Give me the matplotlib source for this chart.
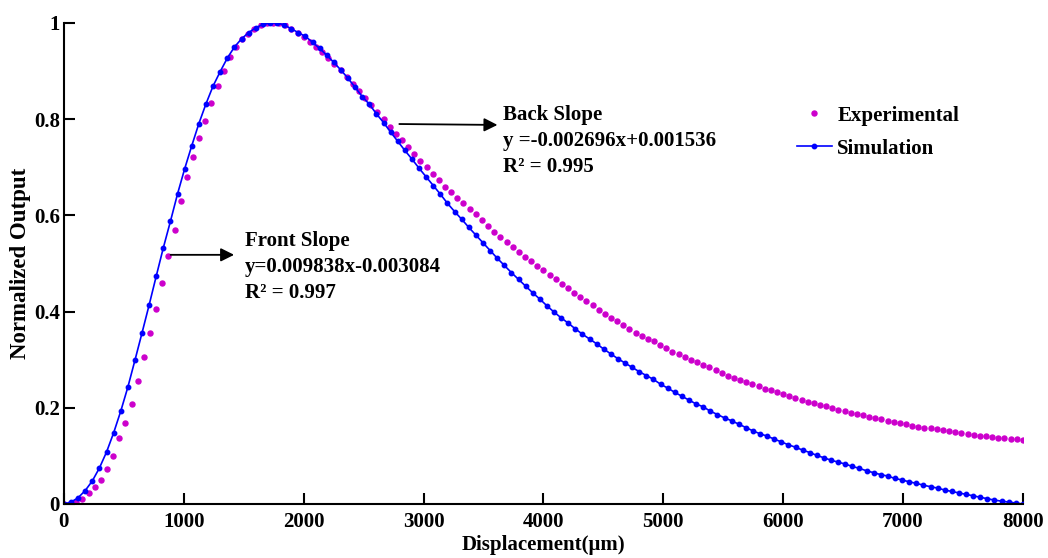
import numpy as np
import matplotlib
matplotlib.use("Agg")
import matplotlib.pyplot as plt

plt.rcParams['font.family'] = ['Liberation Serif', 'DejaVu Serif']
plt.rcParams['font.weight'] = 'bold'

# Experimental data (157 points, 0..8000 um)
exp_x = np.linspace(0, 8000, 157)
exp_y = [0.000, 0.001, 0.005, 0.011, 0.022, 0.035, 0.050, 0.072, 0.100, 0.137,
         0.168, 0.208, 0.256, 0.305, 0.355, 0.406, 0.459, 0.516, 0.570, 0.630,
         0.680, 0.722, 0.760, 0.797, 0.834, 0.870, 0.901, 0.929, 0.950, 0.966,
         0.978, 0.988, 0.995, 0.999, 1.000, 0.999, 0.995, 0.988, 0.980, 0.970,
         0.960, 0.950, 0.940, 0.928, 0.915, 0.902, 0.888, 0.873, 0.859, 0.845,
         0.830, 0.815, 0.800, 0.784, 0.769, 0.756, 0.742, 0.728, 0.714, 0.700,
         0.686, 0.673, 0.660, 0.648, 0.636, 0.625, 0.614, 0.602, 0.590, 0.577,
         0.566, 0.555, 0.545, 0.534, 0.524, 0.514, 0.505, 0.495, 0.486, 0.476,
         0.467, 0.457, 0.448, 0.438, 0.430, 0.421, 0.413, 0.404, 0.395, 0.387,
         0.380, 0.372, 0.364, 0.356, 0.350, 0.344, 0.338, 0.331, 0.324, 0.317,
         0.312, 0.306, 0.300, 0.295, 0.289, 0.284, 0.278, 0.273, 0.267, 0.262,
         0.257, 0.253, 0.249, 0.245, 0.240, 0.236, 0.232, 0.228, 0.224, 0.220,
         0.217, 0.213, 0.210, 0.206, 0.203, 0.200, 0.196, 0.193, 0.190, 0.187,
         0.184, 0.181, 0.178, 0.176, 0.173, 0.171, 0.168, 0.166, 0.163, 0.161,
         0.159, 0.157, 0.155, 0.153, 0.151, 0.149, 0.147, 0.145, 0.144, 0.142,
         0.141, 0.139, 0.138, 0.137, 0.136, 0.135, 0.134]

# Simulation data (136 points, 0..8000 um)
sim_x = np.linspace(0, 8000, 136)
sim_y = [0.000, 0.004, 0.013, 0.028, 0.048, 0.075, 0.108, 0.148, 0.193, 0.243,
         0.299, 0.356, 0.414, 0.474, 0.533, 0.588, 0.645, 0.697, 0.745, 0.791,
         0.832, 0.869, 0.899, 0.927, 0.950, 0.967, 0.980, 0.990, 0.997, 1.000,
         1.000, 0.996, 0.988, 0.980, 0.972, 0.960, 0.947, 0.933, 0.918, 0.902,
         0.885, 0.866, 0.847, 0.831, 0.811, 0.793, 0.773, 0.754, 0.735, 0.717,
         0.698, 0.680, 0.662, 0.644, 0.625, 0.608, 0.592, 0.575, 0.559, 0.543,
         0.527, 0.511, 0.496, 0.481, 0.467, 0.453, 0.439, 0.426, 0.412, 0.399,
         0.387, 0.376, 0.364, 0.353, 0.343, 0.333, 0.322, 0.312, 0.302, 0.293,
         0.284, 0.275, 0.267, 0.259, 0.249, 0.241, 0.232, 0.224, 0.216, 0.208,
         0.202, 0.193, 0.186, 0.179, 0.173, 0.166, 0.159, 0.152, 0.146, 0.141,
         0.135, 0.129, 0.123, 0.118, 0.112, 0.107, 0.101, 0.096, 0.091, 0.087,
         0.083, 0.078, 0.074, 0.069, 0.065, 0.061, 0.058, 0.053, 0.050, 0.046,
         0.043, 0.039, 0.036, 0.033, 0.029, 0.026, 0.023, 0.020, 0.017, 0.014,
         0.011, 0.008, 0.006, 0.004, 0.002, 0.000]

x_ticks = [0, 1000, 2000, 3000, 4000, 5000, 6000, 7000, 8000]
y_ticks = [0, 0.2, 0.4, 0.6, 0.8, 1]

front_text = "Front Slope\ny=0.009838x-0.003084\nR² = 0.997"
back_text = "Back Slope\ny =-0.002696x+0.001536\nR² = 0.995"

fig = plt.figure(figsize=(10.48, 5.58), dpi=100)
ax = fig.add_axes([0.061, 0.0968, 0.915, 0.862])

ax.plot(exp_x, exp_y, linestyle='none', marker='o', markersize=3.6,
        color='#CC00CC', label='Experimental')
ax.plot(sim_x, sim_y, '-', color='#0000FF', linewidth=1.2, marker='o',
        markersize=3.2, label='Simulation')

ax.set_xlim(0, 8000)
ax.set_ylim(0, 1)
ax.set_xticks(x_ticks)
ax.set_yticks(y_ticks)
ax.set_yticklabels(["%g" % t for t in y_ticks])
ax.tick_params(direction='in', length=8, width=1.5, labelsize=15)
ax.tick_params(axis='x', pad=6)
ax.tick_params(axis='y', pad=3)
for s in ['top', 'right']:
    ax.spines[s].set_visible(False)
for s in ['left', 'bottom']:
    ax.spines[s].set_linewidth(1.5)

ax.set_xlabel("Displacement(μm)", fontsize=15, fontweight='bold', labelpad=2)
ax.set_ylabel("Normalized Output", fontsize=16.5, fontweight='bold', labelpad=2)

# slope annotations
ax.annotate("", xy=(1443, 0.518), xytext=(867, 0.518),
            arrowprops=dict(arrowstyle='-|>', color='black', lw=1.3,
                            mutation_scale=20))
ax.annotate("", xy=(3640, 0.788), xytext=(2775, 0.790),
            arrowprops=dict(arrowstyle='-|>', color='black', lw=1.3,
                            mutation_scale=20))
ax.text(1510, 0.568, front_text, fontsize=15, fontweight='bold', va='top',
        ha='left', linespacing=1.4)
ax.text(3661, 0.830, back_text, fontsize=15, fontweight='bold', va='top',
        ha='left', linespacing=1.4)

ax.legend(loc='upper left', bbox_to_anchor=(0.764, 0.828), frameon=False,
          handlelength=1.7, handletextpad=0.25, borderpad=0,
          borderaxespad=0, labelspacing=0.62, prop={'weight': 'bold', 'size': 15})

fig.savefig("out.png", dpi=100)
